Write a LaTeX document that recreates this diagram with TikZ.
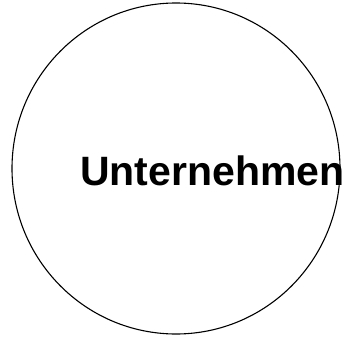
\documentclass[tikz,border=0pt]{standalone}
\usepackage{fontspec}
\setmainfont{Liberation Sans}
\usepackage{tikz}
\usetikzlibrary{shapes.geometric, positioning}

\begin{document}
\begin{tikzpicture}[
    x=1pt, y=1pt,
    company/.style={ellipse, draw=black, line width=1.1pt, minimum width=328pt,
                    minimum height=331pt, inner sep=0pt},
    label/.style={font=\fontsize{41}{48}\selectfont\bfseries, inner sep=0pt},
]
\useasboundingbox (0,0) rectangle (354,-340);
\node[company] (firm) at (176,-168.5) {};
\node[label, anchor=base west] (firmname) at (80,-185) {Unternehmen};
\end{tikzpicture}
\end{document}
